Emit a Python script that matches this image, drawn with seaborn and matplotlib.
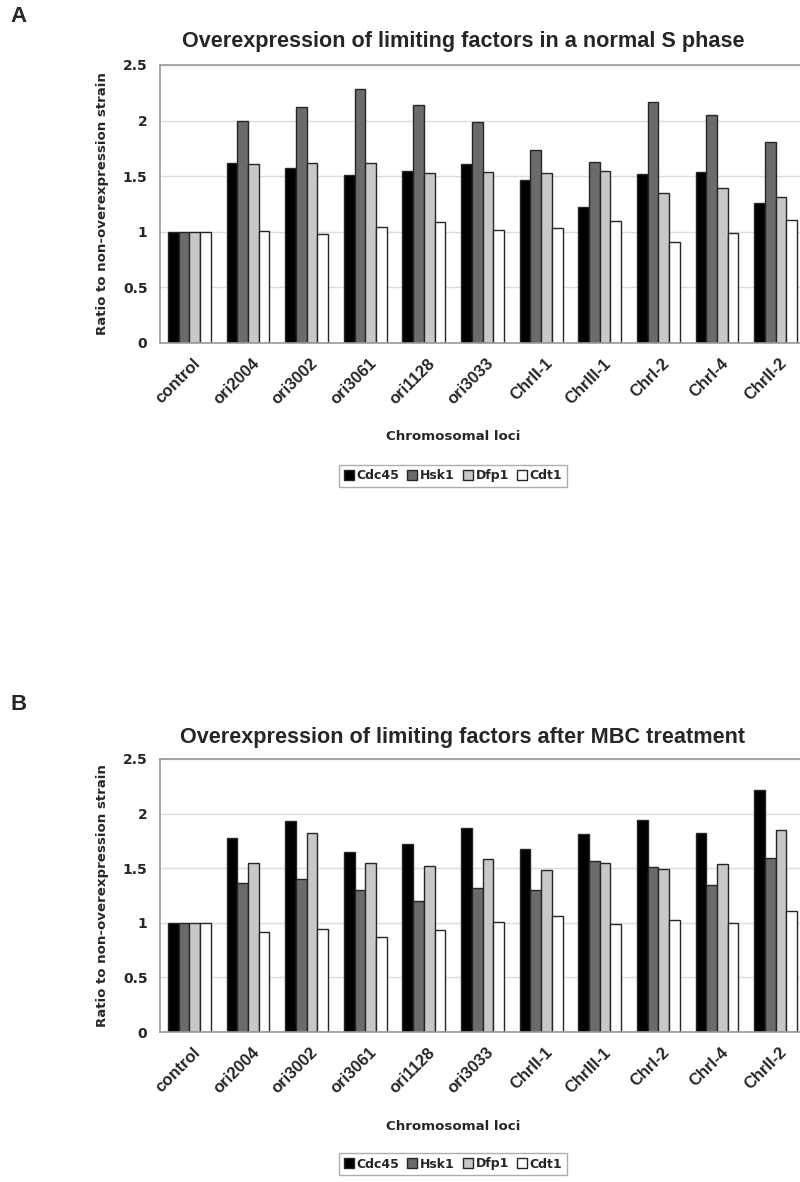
import numpy as np
import pandas as pd
import seaborn as sns
import matplotlib.pyplot as plt
from matplotlib.ticker import FixedLocator
from matplotlib.transforms import ScaledTranslation

loci = ['control', 'ori2004', 'ori3002', 'ori3061', 'ori1128', 'ori3033',
        'ChrII-1', 'ChrIII-1', 'ChrI-2', 'ChrI-4', 'ChrII-2']
factors = ['Cdc45', 'Hsk1', 'Dfp1', 'Cdt1']

# panel A: normal S phase
a_cdc45 = [1.0, 1.62, 1.57, 1.51, 1.55, 1.61, 1.47, 1.22, 1.52, 1.54, 1.26]
a_hsk1 = [1.0, 2.00, 2.12, 2.28, 2.14, 1.99, 1.74, 1.63, 2.17, 2.05, 1.81]
a_dfp1 = [1.0, 1.61, 1.62, 1.62, 1.53, 1.54, 1.53, 1.55, 1.35, 1.39, 1.31]
a_cdt1 = [1.0, 1.01, 0.98, 1.04, 1.09, 1.02, 1.03, 1.10, 0.91, 0.99, 1.11]

# panel B: after MBC treatment
b_cdc45 = [1.0, 1.78, 1.93, 1.65, 1.72, 1.87, 1.68, 1.81, 1.94, 1.82, 2.22]
b_hsk1 = [1.0, 1.36, 1.40, 1.30, 1.20, 1.32, 1.30, 1.57, 1.51, 1.35, 1.59]
b_dfp1 = [1.0, 1.55, 1.82, 1.55, 1.52, 1.58, 1.48, 1.55, 1.49, 1.54, 1.85]
b_cdt1 = [1.0, 0.92, 0.94, 0.87, 0.93, 1.01, 1.06, 0.99, 1.03, 1.00, 1.11]

colors = {'Cdc45': '#000000', 'Hsk1': '#6b6b6b', 'Dfp1': '#c8c8c8', 'Cdt1': '#ffffff'}


def long_df(series):
    rows = []
    for f, vals in zip(factors, series):
        for locus, v in zip(loci, vals):
            rows.append({'locus': locus, 'factor': f, 'ratio': v})
    return pd.DataFrame(rows)


sns.set_style('white')

fig = plt.figure(figsize=(8, 11.82), dpi=100)
W, H = 800, 1182


def draw(rect, df, title, letter, title_y, letter_y, xlab_y, leg_y):
    ax = fig.add_axes(rect)
    sns.barplot(data=df, x='locus', y='ratio', hue='factor', hue_order=factors,
                palette=colors, width=0.73, edgecolor='#262626', linewidth=1,
                saturation=1, ax=ax)
    ax.set_ylim(0, 2.5)
    ax.set_xlim(-0.5, len(loci) - 0.5)
    ax.set_yticks([0, 0.5, 1, 1.5, 2, 2.5])
    ax.set_yticklabels(['0', '0.5', '1', '1.5', '2', '2.5'],
                       fontfamily='DejaVu Sans', fontweight='bold', fontsize=10)
    ax.tick_params(axis='y', length=0, pad=9)
    ax.set_xticks(range(len(loci)))
    ax.set_xticklabels(loci, rotation=45, ha='right', va='center', rotation_mode='anchor',
                       fontfamily='Liberation Sans', fontweight='bold', fontsize=12)
    ax.tick_params(axis='x', which='major', length=0, pad=13)
    shift = ScaledTranslation(0.09, 0, fig.dpi_scale_trans)
    for lab in ax.get_xticklabels():
        lab.set_transform(lab.get_transform() + shift)
    ax.xaxis.set_minor_locator(FixedLocator(np.arange(-0.5, len(loci), 1)))
    ax.tick_params(axis='x', which='minor', length=3, color='#aaaaaa', direction='out')
    ax.yaxis.grid(True, color='#dddddd', linewidth=1)
    ax.set_axisbelow(True)
    for s in ['left', 'bottom', 'top']:
        ax.spines[s].set_color('#999999')
        ax.spines[s].set_linewidth(1.2)
    ax.spines['right'].set_visible(False)
    ax.set_xlabel('')
    ax.set_ylabel('Ratio to non-overexpression strain', fontfamily='DejaVu Sans',
                  fontweight='bold', fontsize=9.6, labelpad=10)

    fig.text(463 / W, 1 - title_y / H, title, ha='center', va='center',
             fontfamily='Liberation Sans', fontweight='bold', fontsize=15.6)
    fig.text(10 / W, 1 - letter_y / H, letter, ha='left', va='center',
             fontfamily='Liberation Sans', fontweight='bold', fontsize=16)
    fig.text(453 / W, 1 - xlab_y / H, 'Chromosomal loci', ha='center', va='center',
             fontfamily='DejaVu Sans', fontweight='bold', fontsize=9.6)

    handles, labels = ax.get_legend_handles_labels()
    ax.legend(handles, labels, loc='center', bbox_to_anchor=(453 / W, 1 - leg_y / H),
              bbox_transform=fig.transFigure, ncol=4, frameon=True, fancybox=False,
              edgecolor='#999999', handlelength=0.8, handleheight=0.8,
              handletextpad=0.25, columnspacing=0.6, borderpad=0.35, borderaxespad=0,
              prop={'family': 'DejaVu Sans', 'weight': 'bold', 'size': 9})
    return ax


draw([160 / W, 1 - 343 / H, 645 / W, 278 / H],
     long_df([a_cdc45, a_hsk1, a_dfp1, a_cdt1]),
     'Overexpression of limiting factors in a normal S phase', 'A',
     42, 16, 437, 476)
draw([160 / W, 1 - 1032 / H, 645 / W, 273 / H],
     long_df([b_cdc45, b_hsk1, b_dfp1, b_cdt1]),
     'Overexpression of limiting factors after MBC treatment', 'B',
     738, 705, 1126, 1164)

fig.savefig('out.png', dpi=100)
